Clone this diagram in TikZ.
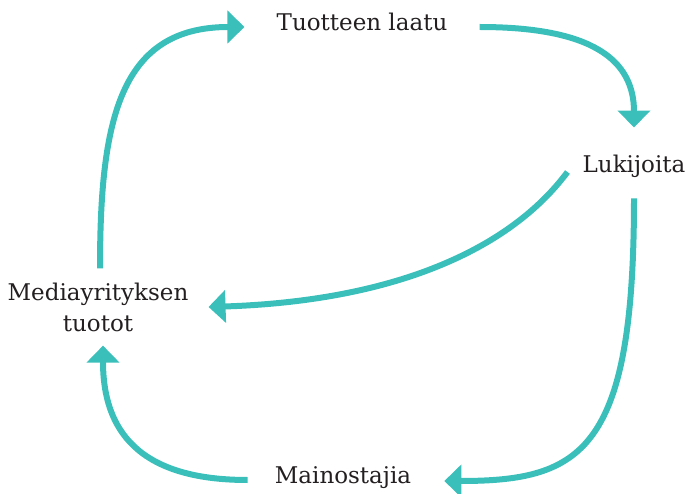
\documentclass[tikz,border=0pt]{standalone}
\usepackage{fontspec}
\setmainfont{DejaVu Serif}
\usetikzlibrary{arrows.meta}
\definecolor{tealarrow}{HTML}{3BBFBA}
\definecolor{inktext}{HTML}{231F20}

\begin{document}
\begin{tikzpicture}[x=1pt, y=-1pt,
 flow/.style = {draw=tealarrow, line width=6pt,
      -{Triangle[width=32pt,length=17pt]}},
 lbl/.style  = {inner sep=0pt, text=inktext, align=center,
      font=\fontsize{23}{31}\selectfont}
                    ]
\useasboundingbox (0,0) rectangle (688,494);
\node (quality) [lbl]     at (362, 22) {Tuotteen laatu};
\node (readers) [lbl]     at (634,166) {Lukijoita};
\node (media)   [lbl]     at ( 98,307) {Mediayrityksen\\tuotot};
\node (ads)     [lbl]     at (343,478) {Mainostajia};
 %
\draw[flow] ([shift={(2pt,14pt)}]media.north)
        .. controls +(0,-148) and +(-125,0) .. ([shift={(-32pt,-5pt)}]quality.west);
\draw[flow] ([shift={(32pt,-5pt)}]quality.east)
        .. controls +(112,0) and +(0,-68) .. ([yshift=27pt]readers.north);
\draw[flow] ([shift={(-15pt,-6pt)}]readers.west)
        .. controls +(-58,78) and +(185,-6) .. ([xshift=20pt]media.east);
\draw[flow] ([yshift=-21pt]readers.south)
        .. controls +(0,252) and +(138,0) .. ([shift={(33pt,-3pt)}]ads.east);
\draw[flow] ([shift={(-27pt,-2pt)}]ads.west)
        .. controls +(-109,0) and +(0,85) .. ([shift={(5pt,-14pt)}]media.south);
\end{tikzpicture}
\end{document}
